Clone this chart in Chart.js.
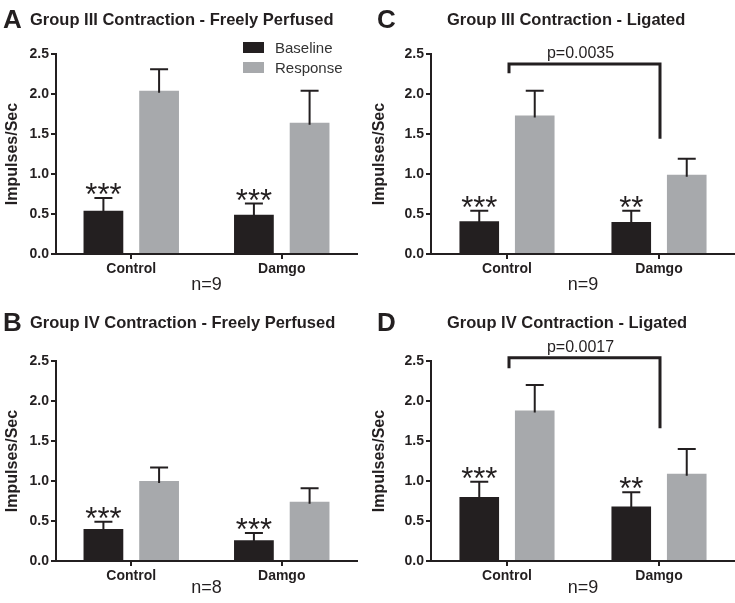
<!DOCTYPE html>
<html>
<head>
<meta charset="utf-8">
<script src="https://cdn.jsdelivr.net/npm/chart.js@4.4.0/dist/chart.umd.min.js"></script>
<style>
  body { margin: 0; background: #fff; }
  #wrap { position: relative; width: 735px; height: 603px; overflow: hidden; }
  canvas { position: absolute; }
</style>
</head>
<body>
<div id="wrap">
  <canvas id="panelA" width="367" height="300" style="left:0;top:0"></canvas>
  <canvas id="panelC" width="368" height="300" style="left:367px;top:0"></canvas>
  <canvas id="panelB" width="367" height="303" style="left:0;top:300px"></canvas>
  <canvas id="panelD" width="368" height="303" style="left:367px;top:300px"></canvas>
</div>
<script>
// Datos comunes
const categorias = ['Control', 'Damgo'];
const etiquetasY = [0, 0.5, 1.0, 1.5, 2.0, 2.5];

// Panel A - Group III freely perfused
const baselineA = [0.54, 0.49];
const baselineErrA = [0.16, 0.14];
const responseA = [2.04, 1.64];
const responseErrA = [0.27, 0.40];
const estrellasA = ['***', '***'];

// Panel B - Group IV freely perfused
const baselineB = [0.40, 0.26];
const baselineErrB = [0.09, 0.09];
const responseB = [1.00, 0.74];
const responseErrB = [0.17, 0.17];
const estrellasB = ['***', '***'];

// Panel C - Group III ligated
const baselineC = [0.41, 0.40];
const baselineErrC = [0.13, 0.14];
const responseC = [1.73, 0.99];
const responseErrC = [0.31, 0.20];
const estrellasC = ['***', '**'];
const corcheteC = [2.375, 2.26, 1.44]; // linea, pata izquierda, pata derecha

// Panel D - Group IV ligated
const baselineD = [0.80, 0.68];
const baselineErrD = [0.19, 0.18];
const responseD = [1.88, 1.09];
const responseErrD = [0.32, 0.31];
const estrellasD = ['***', '**'];
const corcheteD = [2.54, 2.41, 1.66];

const NEGRO = '#231f20';
const GRIS = '#a7a9ac';

Chart.defaults.font.family = "'Liberation Sans', Arial, sans-serif";
Chart.defaults.color = NEGRO;
Chart.defaults.animation = false;

// Plugin para barras de error, asteriscos, corchete, titulos y leyenda
const decoracion = {
    id: 'decoracion',
    afterDatasetsDraw(chart, args, opts) {
        const ctx = chart.ctx;
        const x = chart.scales.x;
        const y = chart.scales.y;
        ctx.save();

        // barras de error (solo hacia arriba)
        chart.data.datasets.forEach((ds, di) => {
            const meta = chart.getDatasetMeta(di);
            meta.data.forEach((bar, i) => {
                const top = y.getPixelForValue(ds.data[i] + ds.errores[i]);
                ctx.strokeStyle = NEGRO;
                ctx.lineWidth = 2;
                ctx.beginPath();
                ctx.moveTo(bar.x, bar.y + 2);
                ctx.lineTo(bar.x, top);
                ctx.moveTo(bar.x - 9, top);
                ctx.lineTo(bar.x + 9, top);
                ctx.stroke();
            });
        });

        // asteriscos sobre la linea base
        const ds0 = chart.data.datasets[0];
        const meta0 = chart.getDatasetMeta(0);
        ctx.fillStyle = NEGRO;
        ctx.font = "31px 'Liberation Sans', Arial";
        ctx.textAlign = 'center';
        ctx.textBaseline = 'alphabetic';
        meta0.data.forEach((bar, i) => {
            const top = y.getPixelForValue(ds0.data[i] + ds0.errores[i]);
            ctx.fillText(opts.estrellas[i], bar.x, top + 7);
        });

        // corchete con valor p
        if (opts.corchete) {
            const c = opts.corchete;
            const x0 = x.getPixelForValue(0) + 2;
            const x1 = x.getPixelForValue(1) + 1;
            const yl = y.getPixelForValue(c[0]);
            ctx.strokeStyle = NEGRO;
            ctx.lineWidth = 3;
            ctx.beginPath();
            ctx.moveTo(x0, y.getPixelForValue(c[1]));
            ctx.lineTo(x0, yl);
            ctx.lineTo(x1, yl);
            ctx.lineTo(x1, y.getPixelForValue(c[2]));
            ctx.stroke();
            ctx.font = "16px 'Liberation Sans', Arial";
            ctx.fillText(opts.p, (x0 + x1) / 2 - 4, yl - 6);
        }

        // n
        ctx.font = "18px 'Liberation Sans', Arial";
        ctx.textBaseline = 'alphabetic';
        ctx.fillText(opts.n, (x.getPixelForValue(0) + x.getPixelForValue(1)) / 2, x.bottom - 10);

        // letra y titulo
        ctx.textAlign = 'left';
        ctx.font = "bold 26px 'Liberation Sans', Arial";
        ctx.fillText(opts.letra, opts.letraX, opts.tituloY + 3);
        ctx.font = "bold 16.5px 'Liberation Sans', Arial";
        ctx.fillText(opts.titulo, opts.tituloX, opts.tituloY);

        // leyenda
        if (opts.leyenda) {
            ctx.font = "15px 'Liberation Sans', Arial";
            chart.data.datasets.forEach((ds, di) => {
                const ly = 42 + di * 20;
                ctx.fillStyle = ds.backgroundColor;
                ctx.fillRect(243, ly, 21, 11);
                ctx.fillStyle = '#333';
                ctx.fillText(ds.label, 275, ly + 11);
            });
        }
        ctx.restore();
    }
};

function crearPanel(id, cfg) {
    return new Chart(document.getElementById(id), {
        type: 'bar',
        data: {
            labels: categorias,
            datasets: [
                { label: 'Baseline', data: cfg.baseline, errores: cfg.baselineErr, backgroundColor: NEGRO,
                  barPercentage: 0.714, categoryPercentage: cfg.catPct },
                { label: 'Response', data: cfg.response, errores: cfg.responseErr, backgroundColor: GRIS,
                  barPercentage: 0.714, categoryPercentage: cfg.catPct }
            ]
        },
        options: {
            responsive: false,
            layout: { padding: { left: 0, top: cfg.top, right: cfg.right, bottom: 0 } },
            scales: {
                x: {
                    afterFit: (s) => { s.height = cfg.alto - cfg.top - 200; },
                    grid: { offset: false, drawOnChartArea: false, drawTicks: true, tickLength: 5, color: NEGRO, lineWidth: 2 },
                    border: { display: true, color: NEGRO, width: 2 },
                    ticks: { font: { size: 14, weight: 'bold' }, padding: 2, color: NEGRO }
                },
                y: {
                    min: 0, max: 2.5,
                    afterFit: (s) => { s.width = cfg.izq; },
                    afterBuildTicks: (s) => { s.ticks = etiquetasY.map(v => ({ value: v })); },
                    grid: { drawOnChartArea: false, drawTicks: true, tickLength: 5, color: NEGRO, lineWidth: 2 },
                    border: { display: true, color: NEGRO, width: 2 },
                    ticks: { font: { size: 14, weight: 'bold' }, padding: 2, color: NEGRO,
                             callback: (v) => Number(v).toFixed(1) },
                    title: { display: true, text: 'Impulses/Sec', font: { size: 16, weight: 'bold' },
                             color: NEGRO, padding: { top: 3, bottom: 2 } }
                }
            },
            plugins: {
                legend: { display: false },
                tooltip: { enabled: false },
                decoracion: cfg.deco
            }
        },
        plugins: [decoracion]
    });
}

crearPanel('panelA', {
    baseline: baselineA, baselineErr: baselineErrA, response: responseA, responseErr: responseErrA,
    top: 54, right: 10, izq: 56, alto: 300, catPct: 0.74,
    deco: { estrellas: estrellasA, n: 'n=9', letra: 'A', letraX: 3, titulo: 'Group III Contraction - Freely Perfused',
            tituloX: 30, tituloY: 25, leyenda: true }
});
crearPanel('panelB', {
    baseline: baselineB, baselineErr: baselineErrB, response: responseB, responseErr: responseErrB,
    top: 61, right: 10, izq: 56, alto: 303, catPct: 0.74,
    deco: { estrellas: estrellasB, n: 'n=8', letra: 'B', letraX: 3, titulo: 'Group IV Contraction - Freely Perfused',
            tituloX: 30, tituloY: 28 }
});
crearPanel('panelC', {
    baseline: baselineC, baselineErr: baselineErrC, response: responseC, responseErr: responseErrC,
    top: 54, right: 0, izq: 64, alto: 300, catPct: 0.73,
    deco: { estrellas: estrellasC, n: 'n=9', letra: 'C', letraX: 10, titulo: 'Group III Contraction - Ligated',
            tituloX: 80, tituloY: 25, corchete: corcheteC, p: 'p=0.0035' }
});
crearPanel('panelD', {
    baseline: baselineD, baselineErr: baselineErrD, response: responseD, responseErr: responseErrD,
    top: 61, right: 0, izq: 64, alto: 303, catPct: 0.73,
    deco: { estrellas: estrellasD, n: 'n=9', letra: 'D', letraX: 10, titulo: 'Group IV Contraction - Ligated',
            tituloX: 80, tituloY: 28, corchete: corcheteD, p: 'p=0.0017' }
});
</script>
</body>
</html>
